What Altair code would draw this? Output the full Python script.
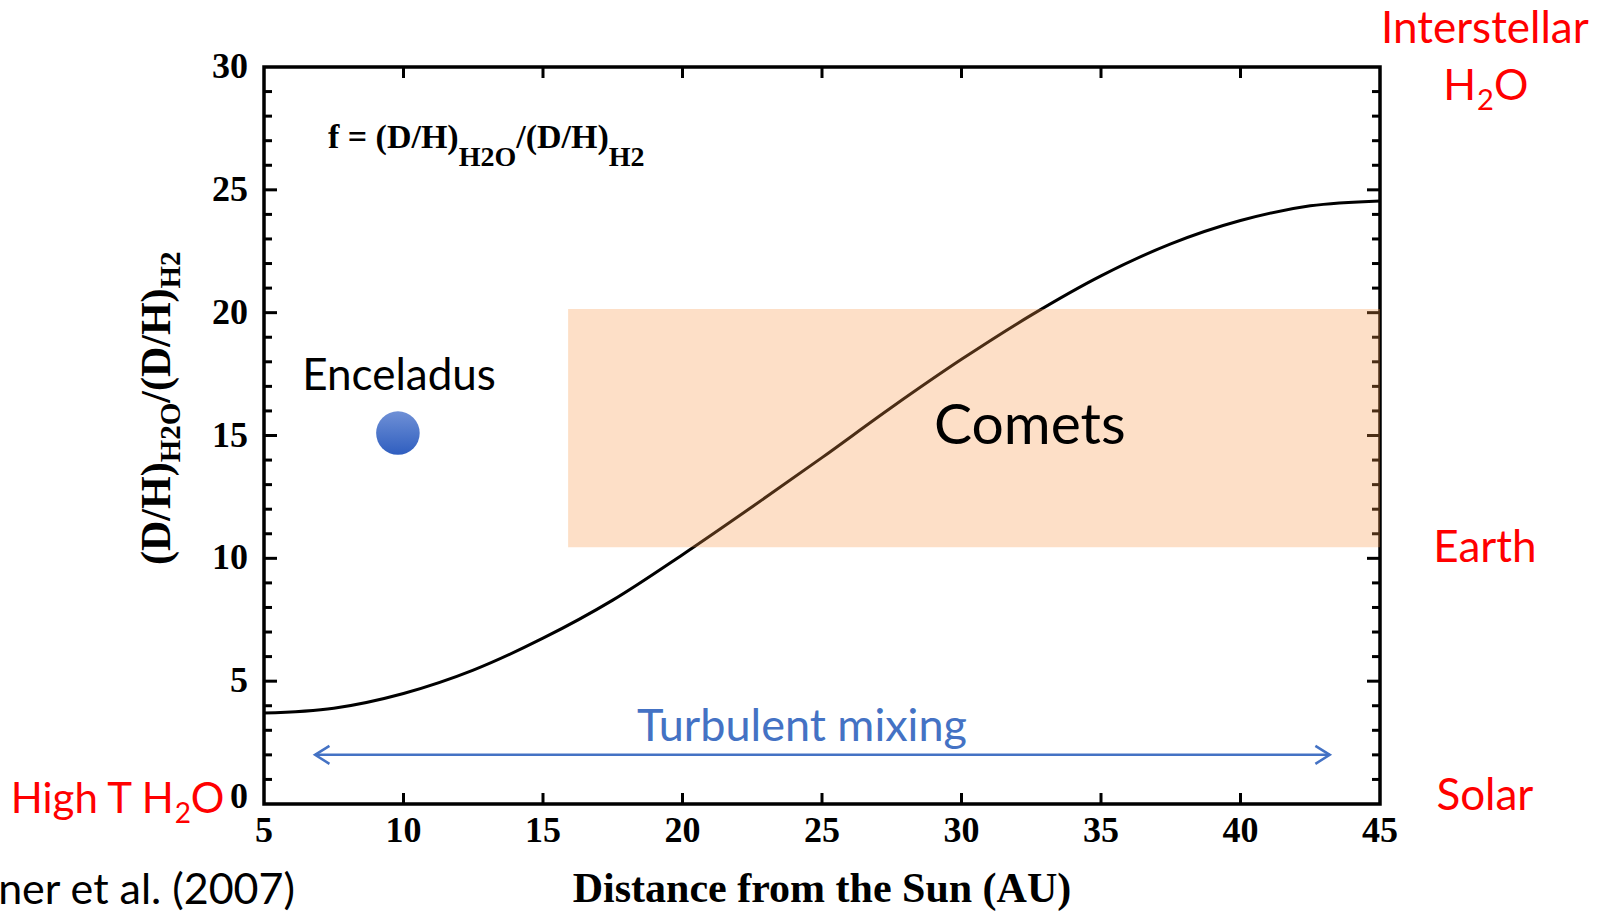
import altair as alt
import pandas as pd

# ---------------- data ----------------
dist_au = [5, 7.5, 10, 12.5, 15, 17.5, 20, 22.5, 25, 27.5, 30, 32.5, 35, 37.5, 40, 42.5, 45]
f_ratio = [3.7, 3.9, 4.5, 5.45, 6.75, 8.3, 10.15, 12.1, 14.1, 16.15, 18.1, 19.9, 21.5, 22.8, 23.75, 24.35, 24.55]

comet_x = [15.9, 45.0]
comet_f = [10.45, 20.15]

enceladus_x = [9.8]
enceladus_f = [15.1]

mixing_x = [6.83, 43.2]
mixing_f = [2.0]

x_ticks = [5, 10, 15, 20, 25, 30, 35, 40, 45]
y_ticks = [5, 10, 15, 20, 25, 30]
y_zero = [0]
y_minor = [v for v in range(1, 30) if v % 5 != 0]
x_inner = [10, 15, 20, 25, 30, 35, 40]
y_inner = [5, 10, 15, 20, 25]

X_DOM = [5, 45]
Y_DOM = [0, 30]

SERIF = "Liberation Serif, Times New Roman, serif"
SANS = "Lato, Open Sans, sans-serif"
BLUE = "#4472C4"
RED = "#FF0000"

xs = alt.Scale(domain=X_DOM, nice=False, zero=False)
ys = alt.Scale(domain=Y_DOM, nice=False, zero=False)


def X(f):
    return alt.X(f, type="quantitative", scale=xs, axis=None)


def Y(f):
    return alt.Y(f, type="quantitative", scale=ys, axis=None)


layers = []

# inward ticks
ymaj = pd.DataFrame({"v": y_inner, "l": 5, "r": 45})
ymin = pd.DataFrame({"v": y_minor, "l": 5, "r": 45})
xmaj = pd.DataFrame({"v": x_inner, "b": 0, "t": 30})
tick_style = dict(color="black", strokeWidth=3)
layers += [
    alt.Chart(ymaj).mark_rule(x2Offset=13, **tick_style).encode(x=X("l"), x2="l", y=Y("v")),
    alt.Chart(ymin).mark_rule(x2Offset=8, **tick_style).encode(x=X("l"), x2="l", y=Y("v")),
    alt.Chart(ymaj).mark_rule(x2Offset=-13, **tick_style).encode(x=X("r"), x2="r", y=Y("v")),
    alt.Chart(ymin).mark_rule(x2Offset=-8, **tick_style).encode(x=X("r"), x2="r", y=Y("v")),
    alt.Chart(xmaj).mark_rule(y2Offset=-11, **tick_style).encode(y=Y("b"), y2="b", x=X("v")),
    alt.Chart(xmaj).mark_rule(y2Offset=11, **tick_style).encode(y=Y("t"), y2="t", x=X("v")),
]

# tick labels (bold serif)
lab = dict(font=SERIF, fontWeight="bold", fontSize=36, color="black")
xl = pd.DataFrame({"v": x_ticks, "b": 0})
yl = pd.DataFrame({"v": y_ticks, "l": 5})
y0 = pd.DataFrame({"v": y_zero, "l": 5})
layers += [
    alt.Chart(xl).mark_text(align="center", baseline="alphabetic", dy=38, **lab).encode(
        x=X("v"), y=Y("b"), text="v:N"),
    alt.Chart(yl).mark_text(align="right", baseline="middle", dx=-16, **lab).encode(
        x=X("l"), y=Y("v"), text="v:N"),
    alt.Chart(y0).mark_text(align="right", baseline="middle", dx=-16, dy=-7, **lab).encode(
        x=X("l"), y=Y("v"), text="v:N"),
]

# model curve
curve_df = pd.DataFrame({"d": dist_au, "f": f_ratio})
layers.append(
    alt.Chart(curve_df).mark_line(color="black", strokeWidth=3, interpolate="monotone").encode(
        x=X("d"), y=Y("f"))
)

# comets band (drawn over the curve, translucent)
comet_df = pd.DataFrame({"x1": [comet_x[0]], "x2": [comet_x[1]], "y1": [comet_f[0]], "y2": [comet_f[1]]})
layers.append(
    alt.Chart(comet_df).mark_rect(color="#F79646", opacity=0.3).encode(
        x=X("x1"), x2="x2", y=Y("y1"), y2="y2")
)

# turbulent mixing arrow
arrow_df = pd.DataFrame({"a": [mixing_x[0]], "b": [mixing_x[1]], "y": mixing_f})
layers.append(
    alt.Chart(arrow_df).mark_rule(color=BLUE, strokeWidth=2.5).encode(x=X("a"), x2="b", y=Y("y"))
)
head_l = pd.DataFrame({"x": [mixing_x[0]], "y": mixing_f})
head_r = pd.DataFrame({"x": [mixing_x[1]], "y": mixing_f})
layers.append(
    alt.Chart(head_l).mark_point(shape="M1.6,-1L0,0L1.6,1", filled=False, size=324,
                                 strokeWidth=2.5, color=BLUE, opacity=1).encode(x=X("x"), y=Y("y"))
)
layers.append(
    alt.Chart(head_r).mark_point(shape="M-1.6,-1L0,0L-1.6,1", filled=False, size=324,
                                 strokeWidth=2.5, color=BLUE, opacity=1).encode(x=X("x"), y=Y("y"))
)

# Enceladus
enc_df = pd.DataFrame({"x": enceladus_x, "y": enceladus_f})
grad = alt.LinearGradient(
    gradient="linear",
    stops=[alt.GradientStop(color="#6F90D6", offset=0), alt.GradientStop(color="#2F5EBF", offset=1)],
    x1=0, x2=0, y1=0, y2=1,
)
layers.append(
    alt.Chart(enc_df).mark_circle(size=1900, color=grad, opacity=1).encode(x=X("x"), y=Y("y"))
)


def text_layer(xv, yv, t, **mark):
    df = pd.DataFrame({"x": [xv], "y": [yv], "t": [t]})
    return alt.Chart(df).mark_text(**mark).encode(x=X("x"), y=Y("y"), text="t:N")


# plain labels
layers += [
    text_layer(9.84, 17.37, "Enceladus", font=SANS, fontSize=44, color="black", baseline="middle"),
    text_layer(32.45, 15.33, "Comets", font=SANS, fontSize=57, color="black", baseline="middle"),
    text_layer(24.28, 3.12, "Turbulent mixing", font=SANS, fontSize=45, color=RED if False else BLUE,
               baseline="middle"),
    text_layer(48.76, 31.5, "Interstellar", font=SANS, fontSize=44, color=RED, baseline="middle"),
    text_layer(48.76, 10.39, "Earth", font=SANS, fontSize=44, color=RED, baseline="middle"),
    text_layer(48.76, 0.29, "Solar", font=SANS, fontSize=44, color=RED, baseline="middle"),
    text_layer(6.11, -3.55, "ner et al. (2007)", font=SANS, fontSize=43, color="black",
               baseline="middle", align="right"),
    text_layer(25.0, -3.99, "Distance from the Sun (AU)", font=SERIF, fontWeight="bold",
               fontSize=42, color="black", baseline="alphabetic", align="center"),
]

# H2O (top right)
h2o_kw = dict(font=SANS, color=RED, baseline="alphabetic")
layers += [
    text_layer(48.48, 28.64, "H", fontSize=43, align="right", dx=-1, **h2o_kw),
    text_layer(48.48, 28.64, "2", fontSize=29, align="left", dy=10, **h2o_kw),
    text_layer(48.48, 28.64, "O", fontSize=43, align="left", dx=17, **h2o_kw),
]
# High T H2O (left)
layers += [
    text_layer(1.8, -0.37, "High T H", fontSize=42, align="right", dx=-1, **h2o_kw),
    text_layer(1.8, -0.37, "2", fontSize=28, align="left", dy=10, **h2o_kw),
    text_layer(1.8, -0.37, "O", fontSize=42, align="left", dx=16, **h2o_kw),
]

# formula f = (D/H)H2O/(D/H)H2
fk = dict(font=SERIF, fontWeight="bold", color="black", align="left", baseline="alphabetic")
fx, fy = 7.29, 26.72
layers += [
    text_layer(fx, fy, "f = (D/H)", fontSize=34, **fk),
    text_layer(fx, fy, "H2O", fontSize=28, dx=130.8, dy=18, **fk),
    text_layer(fx, fy, "/(D/H)", fontSize=34, dx=188.4, **fk),
    text_layer(fx, fy, "H2", fontSize=28, dx=280.9, dy=18, **fk),
]

# rotated y-axis title (D/H)H2O/(D/H)H2
tx, ty = 1.63, 9.73
layers += [
    text_layer(tx, ty, "(D/H)", fontSize=42, angle=270, **fk),
    text_layer(tx, ty, "H2O", fontSize=29, angle=270, dx=102.6, dy=10, **fk),
    text_layer(tx, ty, "/(D/H)", fontSize=42, angle=270, dx=162.2, **fk),
    text_layer(tx, ty, "H2", fontSize=29, angle=270, dx=276.5, dy=10, **fk),
]

chart = alt.layer(*layers).properties(
    width=1116,
    height=737,
    padding={"left": 264, "top": 67, "right": 224, "bottom": 107},
    autosize=alt.AutoSizeParams(type="none"),
    background="white",
).configure_view(stroke="black", strokeWidth=3.5)

chart.save("out.html", embed_options={"renderer": "svg", "actions": False})
